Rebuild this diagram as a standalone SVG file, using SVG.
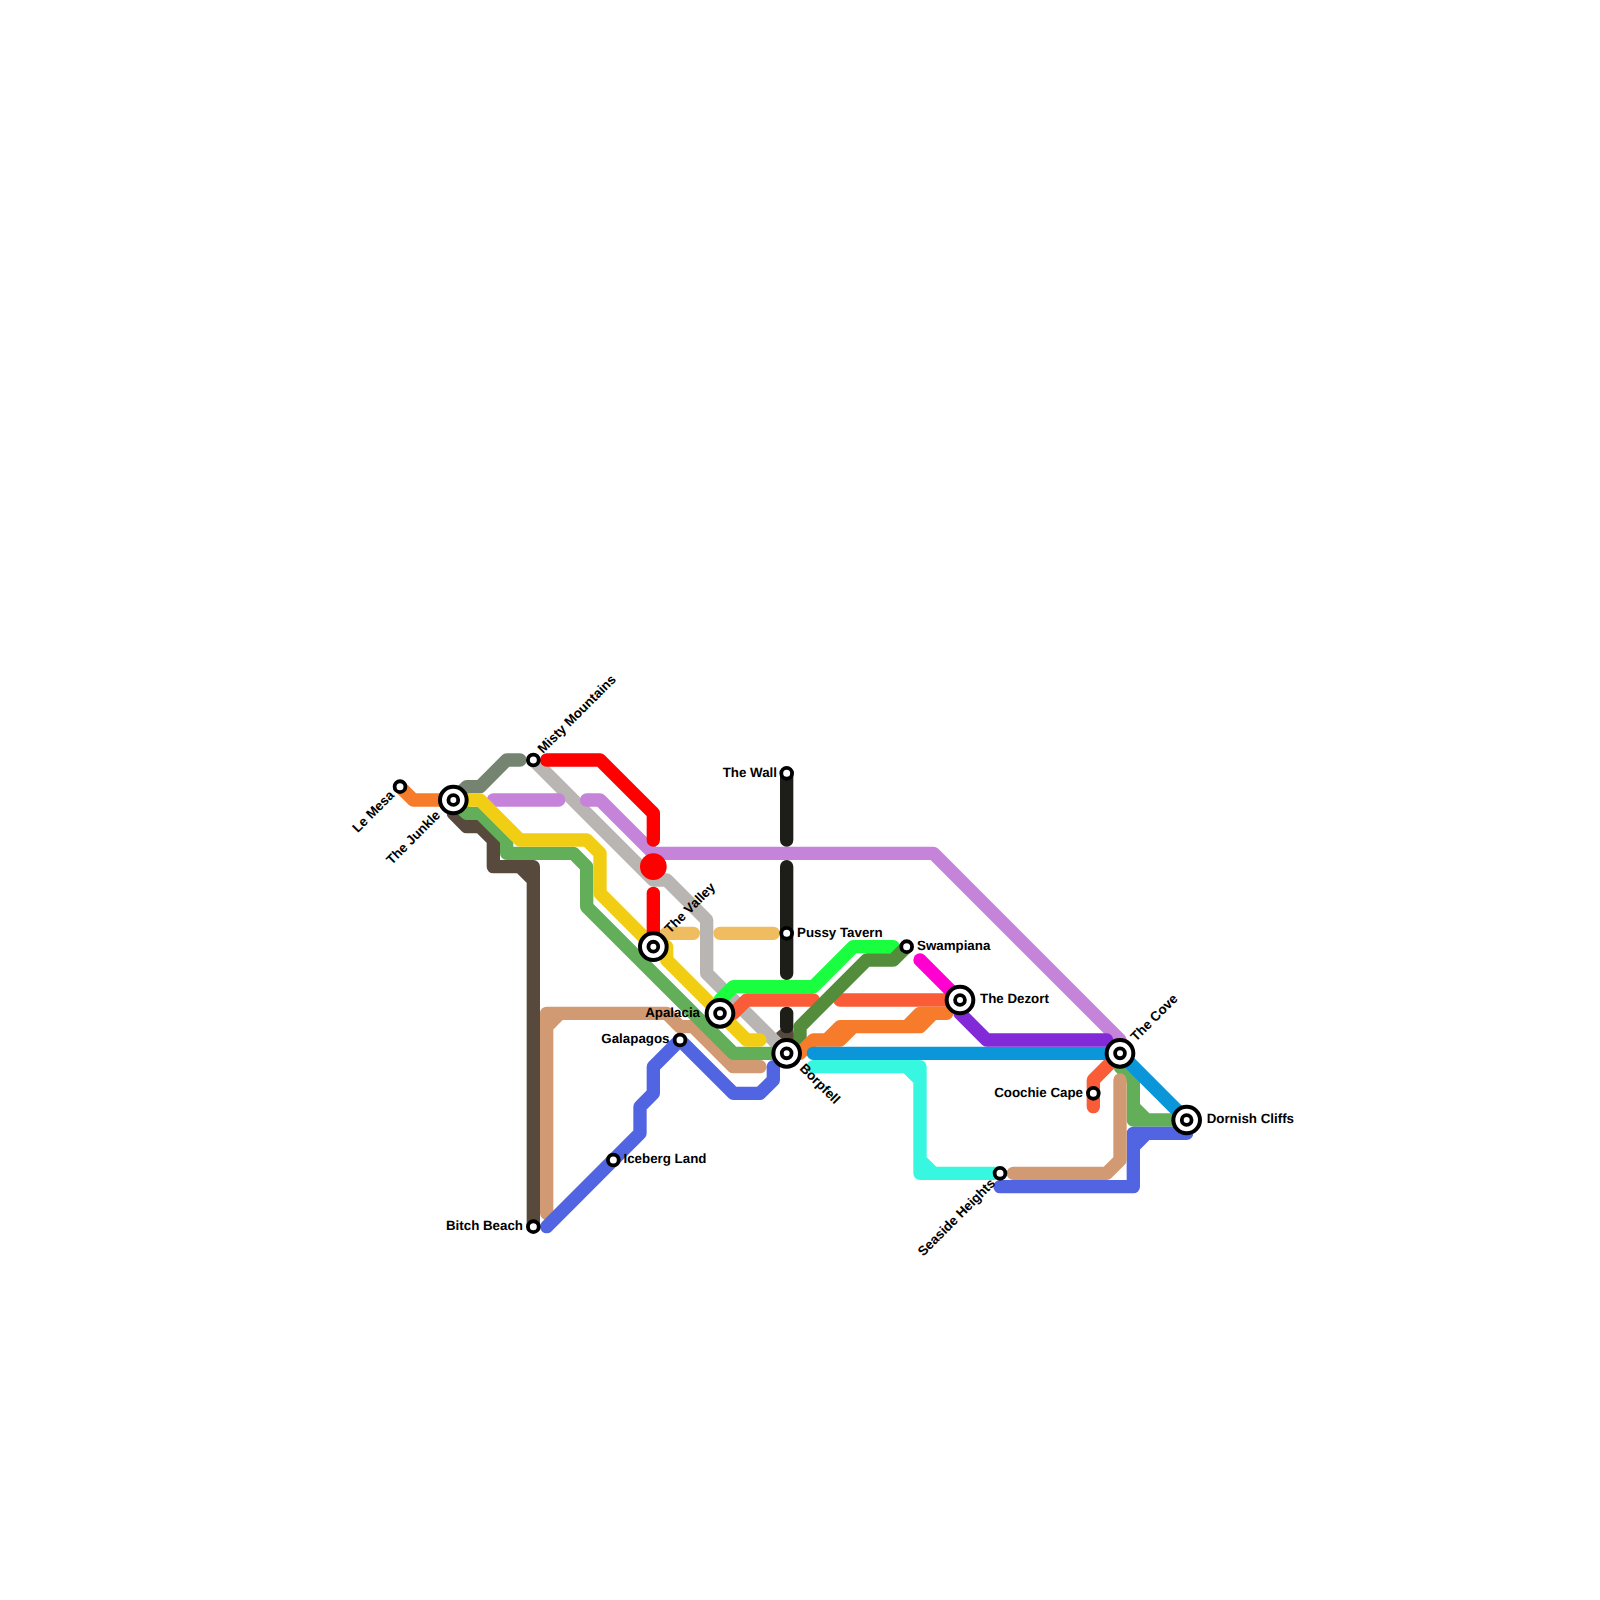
<svg xmlns="http://www.w3.org/2000/svg" width="1600" height="1600" viewBox="0 0 1600 1600">
<style>
.l{fill:none;stroke-width:1;stroke-linecap:round;stroke-linejoin:round}
.big .o{fill:#fff;stroke:#000;stroke-width:4}
.big .i{fill:#fff;stroke:#000;stroke-width:3.8}
.small circle{fill:#fff;stroke:#000;stroke-width:3.8}
text{font-family:"Liberation Sans",Arial,sans-serif;font-weight:700;font-size:13.33px;fill:#000;text-rendering:geometricPrecision}
.e{text-anchor:end}
</style>
<rect width="1600" height="1600" fill="#fff"/>
<g id="connectors">
<polygon points="776,1033 781.7,1028.3 793,1028.3 795,1040 780,1040" fill="#574a3d"/>
<g transform="scale(13.33333)">
<path class="l" stroke="#574a3d" d="M34 60V61L35 62H36L37 63V65H39L40 66V92M39 65H40V66"/>
<path class="l" stroke="#748471" d="M34 60L35 59H36L38 57H39"/>
<path class="l" stroke="#f67c2c" d="M30 59L31 60H34"/>
<path class="l" stroke="#d29a73" d="M41 91V76H50L51 77H52L55 80H57M41 77L42 76"/>
<path class="l" stroke="#b9b5b2" d="M40 57L49 66H50L53 69V73L59 79"/>
<path class="l" stroke="#c583d9" d="M37 60H41.9"/>
<path class="l" stroke="#c583d9" d="M44 60H45L49 64H70L84 78"/>
<path class="l" stroke="#efbd5f" d="M49 71L50 70H52"/>
<path class="l" stroke="#efbd5f" d="M54 70H58"/>
<path class="l" stroke="#63ae58" d="M34 60L35 61H36L38 63V64H43L44 65V68L55 79H59"/>
<path class="l" stroke="#f1ce14" d="M34 60H36L39 63H44L45 64V67L49 71H50V72L56 78H57"/>
<path class="l" stroke="#63ae58" d="M84 79V80L85 81V83L86 84H89M85 83V84H86"/>
<path class="l" stroke="#f95c37" d="M54 76H55L56 75H61"/>
<path class="l" stroke="#f95c37" d="M63 75H71"/>
<path class="l" stroke="#f95c37" d="M84 79L82 81V83"/>
<path class="l" stroke="#19ff40" d="M54 76V75L55 74H61L64 71H67"/>
<path class="l" stroke="#538d3b" d="M68 71L67 72H65L60 77V78"/>
<path class="l" stroke="#f67c2c" d="M59 79H60L61 78H63L64 77H69L70 76H71M62 78L63 77H64M68 77L69 76H70"/>
<path class="l" stroke="#5165e2" d="M41 92L48 85V83L49 82V80L51 78L55 82H57L58 81V80"/>
<path class="l" stroke="#5165e2" d="M89 85H86L85 86V89H75M85 85H86M85 85V86"/>
<path class="l" stroke="#d29a73" d="M84 81V87L83 88H76"/>
<path class="l" stroke="#38f7e0" d="M61 80H68L69 81V87L70 88H75M68 80H69V81M69 87V88H70"/>
<path class="l" stroke="#0a96d8" d="M61 79H84L89 84"/>
<path class="l" stroke="#ff00d0" d="M69 72L72 75"/>
<path class="l" stroke="#832ad8" d="M72 75V76L74 78H83"/>
<path class="l" stroke="#f00" d="M41 57H45L49 61V63"/>
<path class="l" stroke="#f00" d="M49 67V71"/>
<path class="l" stroke="#1e1e19" d="M59 58V63"/>
<path class="l" stroke="#1e1e19" d="M59 65V73"/>
<path class="l" stroke="#1e1e19" d="M59 76V77"/>
</g>
</g>
<g id="marker-red"><circle cx="653.33" cy="866.67" r="13.33" fill="#f00"/></g>
<g id="le-mesa" class="small"><circle cx="400" cy="786.67" r="5.4"/><text class="e" transform="translate(395,796) rotate(-45)">Le Mesa</text></g>
<g id="the-junkle" class="big"><circle class="o" cx="453.33" cy="800" r="13.33"/><circle class="i" cx="453.33" cy="800" r="4.9"/><text class="e" transform="translate(441,816) rotate(-45)">The Junkle</text></g>
<g id="misty-mountains" class="small"><circle cx="533.33" cy="760" r="5.4"/><text transform="translate(543,754) rotate(-45)">Misty Mountains</text></g>
<g id="the-valley" class="big"><circle class="o" cx="653.33" cy="946.67" r="13.33"/><circle class="i" cx="653.33" cy="946.67" r="4.9"/><text transform="translate(670,934) rotate(-45)">The Valley</text></g>
<g id="apalacia" class="big"><circle class="o" cx="720" cy="1013.33" r="13.33"/><circle class="i" cx="720" cy="1013.33" r="4.9"/><text class="e" x="700" y="1016.5">Apalacia</text></g>
<g id="galapagos" class="small"><circle cx="680" cy="1040" r="5.4"/><text class="e" x="669.5" y="1043">Galapagos</text></g>
<g id="iceberg-land" class="small"><circle cx="613.33" cy="1160" r="5.4"/><text x="623.5" y="1163">Iceberg Land</text></g>
<g id="bitch-beach" class="small"><circle cx="533.33" cy="1226.67" r="5.4"/><text class="e" x="523" y="1230">Bitch Beach</text></g>
<g id="the-wall" class="small"><circle cx="786.67" cy="773.33" r="5.4"/><text class="e" x="777" y="776.5">The Wall</text></g>
<g id="pussy-tavern" class="small"><circle cx="786.67" cy="933.33" r="5.4"/><text x="797" y="936.5">Pussy Tavern</text></g>
<g id="swampiana" class="small"><circle cx="906.67" cy="946.67" r="5.4"/><text x="917" y="949.5">Swampiana</text></g>
<g id="borpfell" class="big"><circle class="o" cx="786.67" cy="1053.33" r="13.33"/><circle class="i" cx="786.67" cy="1053.33" r="4.9"/><text transform="translate(799,1069) rotate(45)">Borpfell</text></g>
<g id="the-dezort" class="big"><circle class="o" cx="960" cy="1000" r="13.33"/><circle class="i" cx="960" cy="1000" r="4.9"/><text x="980" y="1002.5">The Dezort</text></g>
<g id="the-cove" class="big"><circle class="o" cx="1120" cy="1053.33" r="13.33"/><circle class="i" cx="1120" cy="1053.33" r="4.9"/><text transform="translate(1136,1042) rotate(-45)">The Cove</text></g>
<g id="coochie-cape" class="small"><circle cx="1093.33" cy="1093.33" r="5.4"/><text class="e" x="1083" y="1096.5">Coochie Cape</text></g>
<g id="dornish-cliffs" class="big"><circle class="o" cx="1186.67" cy="1120" r="13.33"/><circle class="i" cx="1186.67" cy="1120" r="4.9"/><text x="1206.67" y="1123">Dornish Cliffs</text></g>
<g id="seaside-heights" class="small"><circle cx="1000" cy="1173.33" r="5.4"/><text class="e" transform="translate(996,1184) rotate(-45)">Seaside Heights</text></g>
</svg>
